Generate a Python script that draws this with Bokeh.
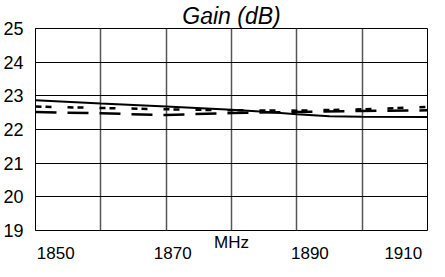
from bokeh.plotting import figure
from bokeh.models import FixedTicker, Range1d, Title
from bokeh.embed import file_html
from bokeh.resources import INLINE

# ---- data ----
freq_solid = [1850, 1860, 1870, 1880, 1885, 1890, 1895, 1900, 1910]
gain_solid = [22.87, 22.77, 22.68, 22.59, 22.53, 22.45, 22.39, 22.38, 22.37]

freq_dash = [1850, 1860, 1870, 1880, 1890, 1900, 1910]
gain_short_dash = [22.68, 22.64, 22.60, 22.57, 22.56, 22.60, 22.67]
gain_long_dash = [22.52, 22.48, 22.43, 22.49, 22.52, 22.55, 22.57]

y_ticks = [19, 20, 21, 22, 23, 24, 25]
x_grid = [1850, 1860, 1870, 1880, 1890, 1900, 1910]
x_tick_labels = ["1850", "1870", "1890", "1910"]
x_tick_label_pos = [1853.1, 1871.0, 1892.0, 1906.3]

FONT = "Liberation Sans"

p = figure(width=429, height=261, output_backend="svg", toolbar_location=None,
           x_range=Range1d(1850, 1910), y_range=Range1d(19, 25),
           min_border_left=30, min_border_right=2, min_border_top=28,
           min_border_bottom=5, title="Gain (dB)")

p.title.text_font = FONT
p.title.text_font_size = "23px"
p.title.text_font_style = "italic"
p.title.align = "center"
p.title.text_color = "black"
p.title.offset = 0
p.title.standoff = 0

p.outline_line_color = "black"
p.outline_line_width = 1
p.background_fill_color = "white"
p.border_fill_color = "white"

# axes
p.yaxis.ticker = FixedTicker(ticks=y_ticks)
p.yaxis.major_tick_line_color = None
p.yaxis.minor_tick_line_color = None
p.yaxis.major_label_text_font = FONT
p.yaxis.major_label_text_font_size = "18px"
p.yaxis.major_label_text_color = "black"
p.yaxis.major_label_standoff = 6
p.yaxis.axis_line_color = "black"

xaxis = p.xaxis[0]
xaxis.ticker = FixedTicker(ticks=x_tick_label_pos)
xaxis.major_label_overrides = {pos: lab for pos, lab in zip(x_tick_label_pos, x_tick_labels)}
xaxis.major_tick_line_color = None
xaxis.major_tick_out = 0
xaxis.major_tick_in = 0
xaxis.minor_tick_line_color = None
xaxis.minor_tick_out = 0
xaxis.major_label_text_font = FONT
xaxis.major_label_text_font_size = "17px"
xaxis.major_label_text_color = "black"
xaxis.major_label_standoff = -5
xaxis.axis_line_color = None

# grids
p.xgrid.ticker = FixedTicker(ticks=x_grid)
p.xgrid.grid_line_color = "#555555"
p.xgrid.grid_line_width = 1.5
p.ygrid.ticker = FixedTicker(ticks=y_ticks)
p.ygrid.grid_line_color = "black"
p.ygrid.grid_line_width = 1

# series
p.line(freq_dash, gain_short_dash, line_color="black", line_width=2.5,
       line_dash="6 4 6 16")
p.line(freq_dash, gain_long_dash, line_color="black", line_width=2.5,
       line_dash="21 11")
p.line(freq_solid, gain_solid, line_color="black", line_width=2)

# axis title sits between the frame and the tick labels, as in the reference
mhz = Title(text="MHz", align="center", offset=25, standoff=0,
            text_font=FONT, text_font_size="17px", text_font_style="normal",
            text_color="black", text_line_height=0.75)
p.below = [mhz, xaxis]

open("out.html", "w").write(file_html(p, INLINE))
